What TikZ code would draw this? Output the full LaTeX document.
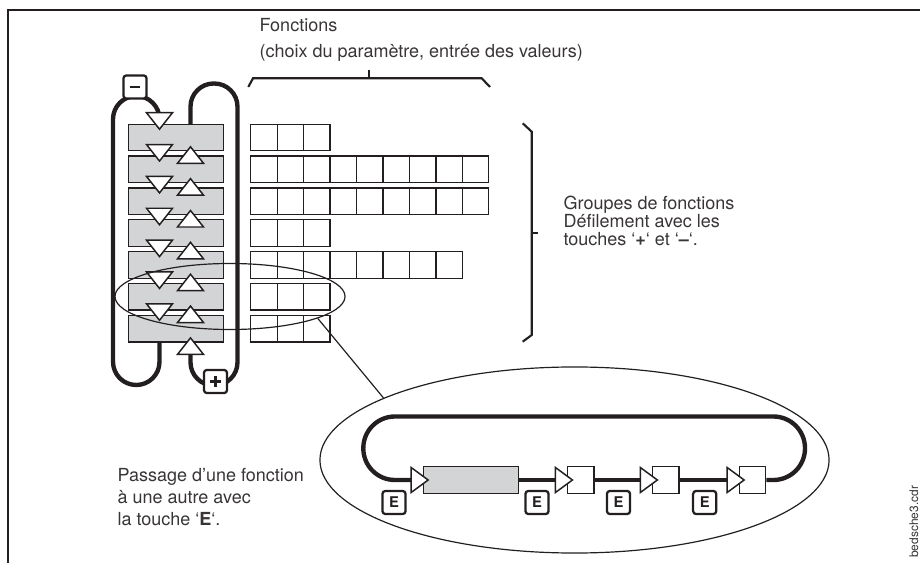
\documentclass[tikz,border=0pt]{standalone}
\usepackage{fontspec}
\setmainfont{TeX Gyre Heros}
\usetikzlibrary{shapes.geometric}

\definecolor{ink}{RGB}{35,31,32}
\definecolor{rowgray}{RGB}{211,212,214}

\newcommand{\minuskey}{\rule{7.5pt}{2.1pt}}
\newcommand{\pluskey}{\makebox[7.5pt]{\rule[-0.7pt]{2.1pt}{7.5pt}}\llap{\rule[2pt]{7.5pt}{2.1pt}}}

\tikzset{
	loopline/.style={draw=ink, line width=3.1pt, rounded corners=0.58cm},
	grayrow/.style={draw=ink, fill=rowgray, line width=0.9pt, minimum width=2.375cm, minimum height=0.665cm, inner sep=0pt},
	cell/.style={draw=ink, fill=white, line width=0.9pt, minimum width=0.661cm, minimum height=0.665cm, inner sep=0pt},
	keycap/.style={draw=ink, fill=white, line width=1.6pt, rounded corners=2.2pt, minimum size=0.58cm, inner sep=0pt, text=ink, font=\fontsize{10.5}{10.5}\selectfont\bfseries},
	tri/.style={draw=ink, fill=white, line width=1.05pt, line join=miter},
	tridown/.pic={\draw[tri] (-13,0) -- (13,0) -- (0,16.5) -- cycle;},
	triup/.pic={\draw[tri] (-13,0) -- (13,0) -- (0,-16.5) -- cycle;},
	triright/.pic={\draw[tri] (-11.5,-12.5) -- (5.5,0) -- (-11.5,12.5) -- cycle;},
	brace line/.style={draw=ink, line width=1.5pt},
	ring/.style={ellipse, draw=ink, line width=0.85pt, inner sep=0pt},
	label text/.style={anchor=base west, inner sep=0pt, text=ink!90, font=\fontsize{12.8}{12.8}\selectfont},
}

\begin{document}
\begin{tikzpicture}[x=0.025cm, y=-0.025cm]
	\useasboundingbox (0,0) rectangle (920,563);
	% frame
	\draw[ink, line width=1.2pt] (8,563) -- (8,10) -- (920,10);

	% braces
	\draw[brace line] (248.3,87) -- (253,78.3) -- (481.7,78.3) -- (490,87);
	\draw[brace line] (369.3,78.3) -- (369.3,70);
	\draw[brace line] (522.7,123.3) -- (531.7,131.7) -- (531.7,335) -- (522.7,341.7);
	\draw[brace line] (531.7,233.3) -- (538.3,233.3);

	% loops of the - and + keys
	\draw[loopline] (159.5,124) -- (159.5,96) -- (113,96) -- (113,385) -- (159.5,385) -- (159.5,342);
	\draw[loopline] (190.5,354) -- (190.5,385.5) -- (237.5,385.5) -- (237.5,83.5) -- (190.5,83.5) -- (190.5,124);

	% function groups and their functions
	\foreach \i in {0,...,6}
		\node[grayrow] (row\i) at (175.8,137.5+31.85*\i) {};
	\foreach \n [count=\i from 0] in {3,9,9,3,8,3,3}
		\foreach \j in {1,...,\n}
			\node[cell] (c\i-\j) at (237.5+26.45*\j,137.5+31.85*\i) {};

	% scroll arrows
	\foreach \i in {0,...,6} {
		\pic at (159.5,112.7+31.85*\i) {tridown};
		\pic at (190.5,163.3+31.85*\i) {triup};
	}

	\node[keycap] (minus) at (135,87) {\minuskey};
	\node[keycap] (plus) at (215.5,381.5) {\pluskey};

	% detail of one group
	\node[ring, minimum width=5.75cm, minimum height=1.65cm] (sel) at (230,296.5) {};
	\node[ring, minimum width=12.725cm, minimum height=4.65cm] (zoomring) at (574.5,460) {};
	\draw[ink, line width=0.85pt] (sel.-14) -- (zoomring.162);

	\node[grayrow] (cur) at (470.8,480) {};
	\node[cell] (f1) at (580.8,480) {};
	\node[cell] (f2) at (665.7,480) {};
	\node[cell] (f3) at (752.5,480) {};
	\draw[loopline, rounded corners=0.79cm] (f3.east) -- (805,480) -- (805,416.5) -- (363.3,416.5) -- (363.3,480) -- (cur.west);
	\draw[loopline] (cur.east) -- (f1.west) (f1.east) -- (f2.west) (f2.east) -- (f3.west);
	\foreach \b in {cur,f1,f2,f3}
		\pic at (\b.west) {triright};

	\node[keycap] (e1) at (394,502.5) {E};
	\node[keycap] (e2) at (537,502.5) {E};
	\node[keycap] (e3) at (618.5,502.5) {E};
	\node[keycap] (e4) at (704.7,502.5) {E};

	% texts
	\node[label text] (fct1) at (259.3,32) {Fonctions};
	\node[label text] (fct2) at (259.3,57.5) {(choix du paramètre, entrée des valeurs)};
	\node[label text] (grp1) at (563.3,210) {Groupes de fonctions};
	\node[label text] (grp2) at (563.3,227.8) {Défilement avec les};
	\node[label text] (grp3) at (563.3,245.6) {touches ‘\textbf{+}‘ et ‘\textbf{–}‘.};
	\node[label text] (pas1) at (117.3,481.7) {Passage d’une fonction};
	\node[label text] (pas2) at (117.3,503.5) {à une autre avec};
	\node[label text] (pas3) at (117.3,525.5) {la touche ‘\textbf{E}‘.};
	\node[label text, rotate=90, font=\fontsize{8.5}{8.5}\selectfont] (fname) at (918,558) {bedsche3.cdr};
\end{tikzpicture}
\end{document}
